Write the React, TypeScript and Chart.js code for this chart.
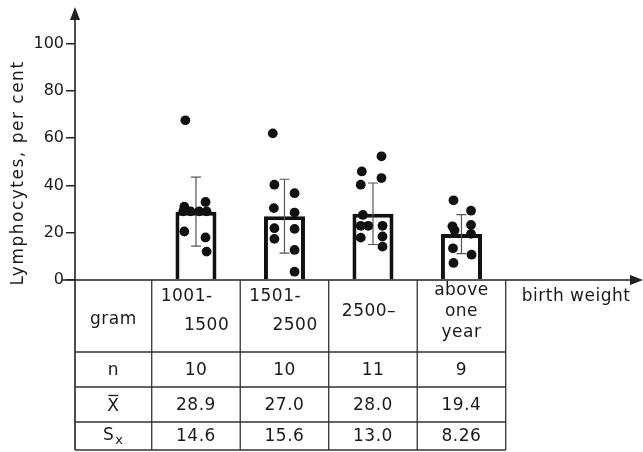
import React, { useEffect, useRef } from "react";
import { Chart, registerables } from "chart.js";

Chart.register(...registerables);

// ---- data ----
const groupHeaders: string[][] = [
  ["1001-", "1500"],
  ["1501-", "2500"],
  ["2500\u2013"],
  ["above", "one", "year"],
];
const nValues = ["10", "10", "11", "9"];
const meanLabels = ["28.9", "27.0", "28.0", "19.4"];
const sdLabels = ["14.6", "15.6", "13.0", "8.26"];
const means = meanLabels.map(Number);
const sds = sdLabels.map(Number);
const yTicks = [0, 20, 40, 60, 80, 100];

const dots1 = [67.5, 31, 33, 29, 29, 29, 29, 20.5, 18, 12];
const sides1 = [-1.0, -1.1, 0.9, -1.2, -0.5, 0.3, 1.0, -1.1, 0.9, 1.0];
const dots2 = [62, 40.3, 36.7, 30.4, 28.5, 21.9, 21.6, 17.4, 12.7, 3.5];
const sides2 = [-1.1, -0.95, 0.95, -1.0, 0.95, -0.95, 0.95, -0.95, 0.95, 0.95];
const dots3 = [52.3, 45.9, 43.1, 40.3, 27.5, 22.9, 22.9, 22.9, 17.9, 18.4, 14.1];
const sides3 = [0.8, -1.05, 0.8, -1.15, -0.95, -1.15, -0.45, 0.9, -1.15, 0.9, 0.9];
const dots4 = [33.7, 29.3, 22.7, 21, 23.3, 19.5, 13.4, 10.7, 7.2];
const sides4 = [-0.75, 0.9, -0.85, -0.65, 0.9, 0.9, -0.8, 0.95, -0.75];

const dotGroups = [dots1, dots2, dots3, dots4];
const sideGroups = [sides1, sides2, sides3, sides4];

const yTitle = "Lymphocytes, per cent";
const xTitle = "birth weight";
const unitLabel = "gram";

// ---- layout constants ----
const JITTER = 0.12;
const ROW_HEIGHTS = [72, 35, 35, 28];
const INK = "#1a1a1a";
const LINE = "#333";
const FONT = '"DejaVu Sans", sans-serif';

const tablePlugin = {
  id: "tableAndAxes",
  afterDatasetDraw(chart: any, args: any) {
    if (args.index !== 0) return;
    const ctx = chart.ctx;
    const xs = chart.scales.x;
    const ys = chart.scales.y;
    ctx.save();
    ctx.strokeStyle = "#555";
    ctx.lineWidth = 1.2;
    means.forEach((m, i) => {
      const x = xs.getPixelForValue(i);
      const t = ys.getPixelForValue(m + sds[i]);
      const b = ys.getPixelForValue(m - sds[i]);
      ctx.beginPath();
      ctx.moveTo(x, t);
      ctx.lineTo(x, b);
      ctx.moveTo(x - 5, t);
      ctx.lineTo(x + 5, t);
      ctx.moveTo(x - 5, b);
      ctx.lineTo(x + 5, b);
      ctx.stroke();
    });
    ctx.restore();
  },
  afterDraw(chart: any) {
    const ctx = chart.ctx;
    const xs = chart.scales.x;
    const area = chart.chartArea;
    const left = area.left;
    const base = area.bottom;
    const colEdges = [-0.5, 0.5, 1.5, 2.5, 3.5].map((v) => xs.getPixelForValue(v));
    const rowEdges = [base];
    ROW_HEIGHTS.forEach((h) => rowEdges.push(rowEdges[rowEdges.length - 1] + h));
    const tableBottom = rowEdges[rowEdges.length - 1];
    const tableRight = colEdges[colEdges.length - 1];

    ctx.save();
    // axes
    ctx.strokeStyle = "#222";
    ctx.lineWidth = 1.6;
    ctx.beginPath();
    ctx.moveTo(left, 14);
    ctx.lineTo(left, tableBottom);
    ctx.moveTo(62, base);
    ctx.lineTo(632, base);
    ctx.stroke();
    ctx.fillStyle = "#222";
    ctx.beginPath();
    ctx.moveTo(left, 7);
    ctx.lineTo(left - 5, 20);
    ctx.lineTo(left + 5, 20);
    ctx.closePath();
    ctx.fill();
    ctx.beginPath();
    ctx.moveTo(643, base);
    ctx.lineTo(630, base - 5);
    ctx.lineTo(630, base + 5);
    ctx.closePath();
    ctx.fill();

    // table grid
    ctx.strokeStyle = LINE;
    ctx.lineWidth = 1.3;
    ctx.beginPath();
    rowEdges.slice(1).forEach((y) => {
      ctx.moveTo(left, y);
      ctx.lineTo(tableRight, y);
    });
    colEdges.forEach((x) => {
      ctx.moveTo(x, base);
      ctx.lineTo(x, tableBottom);
    });
    ctx.stroke();

    // texts
    ctx.fillStyle = INK;
    ctx.font = `17px ${FONT}`;
    (ctx as any).letterSpacing = "0.5px";
    ctx.textBaseline = "middle";
    const firstColMid = (left + colEdges[0]) / 2;
    const top = rowEdges[0];

    ctx.textAlign = "center";
    ctx.fillText(unitLabel, firstColMid, top + 40);
    ctx.textAlign = "left";
    ctx.fillText(xTitle, tableRight + 16, top + 17);

    groupHeaders.forEach((lines, i) => {
      const L = colEdges[i];
      const R = colEdges[i + 1];
      const mid = (L + R) / 2;
      if (lines.length === 2) {
        ctx.textAlign = "left";
        ctx.fillText(lines[0], L + 9, top + 17);
        ctx.textAlign = "right";
        ctx.fillText(lines[1], R - 11, top + 46);
      } else if (lines.length === 1) {
        ctx.textAlign = "center";
        ctx.fillText(lines[0], mid - 4, top + 32);
      } else {
        ctx.textAlign = "center";
        lines.forEach((ln, k) => ctx.fillText(ln, mid, top + 11 + k * 21));
      }
    });

    const rowsText = [nValues, meanLabels, sdLabels];
    rowsText.forEach((vals, r) => {
      const yMid = (rowEdges[r + 1] + rowEdges[r + 2]) / 2 + 1;
      ctx.textAlign = "center";
      vals.forEach((v, i) => {
        const mid = (colEdges[i] + colEdges[i + 1]) / 2;
        ctx.fillText(v, mid, yMid);
      });
    });

    // row labels
    const yN = (rowEdges[1] + rowEdges[2]) / 2 + 1;
    const yX = (rowEdges[2] + rowEdges[3]) / 2 + 1;
    const yS = (rowEdges[3] + rowEdges[4]) / 2;
    ctx.textAlign = "center";
    ctx.fillText("n", firstColMid, yN);
    ctx.fillText("X", firstColMid, yX + 1);
    ctx.strokeStyle = INK;
    ctx.lineWidth = 1.3;
    ctx.beginPath();
    ctx.moveTo(firstColMid - 5, yX - 10);
    ctx.lineTo(firstColMid + 5, yX - 10);
    ctx.stroke();
    ctx.textAlign = "right";
    ctx.fillText("S", firstColMid + 1, yS);
    ctx.font = `13px ${FONT}`;
    ctx.textAlign = "left";
    ctx.fillText("x", firstColMid + 2, yS + 5);

    // y title
    ctx.font = `17px ${FONT}`;
    (ctx as any).letterSpacing = "1.5px";
    ctx.translate(19, 173);
    ctx.rotate(-Math.PI / 2);
    ctx.textAlign = "center";
    ctx.fillText(yTitle, 0, 0);
    ctx.restore();
  },
};

export default function App() {
  const ref = useRef<HTMLCanvasElement | null>(null);
  useEffect(() => {
    if (!ref.current) return;
    const dotData: { x: number; y: number }[] = [];
    dotGroups.forEach((g, gi) =>
      g.forEach((v, k) => dotData.push({ x: gi + sideGroups[gi][k] * JITTER, y: v }))
    );
    const chart = new Chart(ref.current, {
      type: "bar",
      data: {
        datasets: [
          {
            type: "bar",
            data: means.map((m, i) => ({ x: i, y: m })),
            backgroundColor: "#fff",
            borderColor: "#111",
            borderWidth: 4,
            barPercentage: 0.5,
            categoryPercentage: 1,
            order: 2,
          } as any,
          {
            type: "scatter",
            data: dotData,
            backgroundColor: "#111",
            borderWidth: 0,
            pointRadius: 4.9,
            order: 0,
          } as any,
        ],
      },
      options: {
        animation: false,
        responsive: false,
        events: [],
        layout: { padding: { left: 0, right: 11, top: 12, bottom: 172 } },
        plugins: { legend: { display: false }, tooltip: { enabled: false } },
        scales: {
          x: {
            type: "linear",
            display: false,
            offset: false,
            min: -1.367,
            max: 4.927,
          },
          y: {
            min: 0,
            max: 113.3,
            border: { display: false },
            grid: {
              drawOnChartArea: false,
              drawTicks: true,
              tickLength: 9,
              color: "#222",
              lineWidth: 1.5,
            },
            ticks: {
              padding: 2,
              color: INK,
              font: { family: "DejaVu Sans", size: 16 },
            },
            afterBuildTicks: (scale: any) => {
              scale.ticks = yTicks.map((v) => ({ value: v }));
            },
            afterFit: (scale: any) => {
              scale.width = 75;
            },
          },
        },
      },
      plugins: [tablePlugin],
    } as any);
    return () => chart.destroy();
  }, []);
  return (
    <div style={{ position: "absolute", left: 0, top: 0, width: 643, height: 452, background: "#fff" }}>
      <canvas ref={ref} width={643} height={452} style={{ display: "block" }} />
    </div>
  );
}
